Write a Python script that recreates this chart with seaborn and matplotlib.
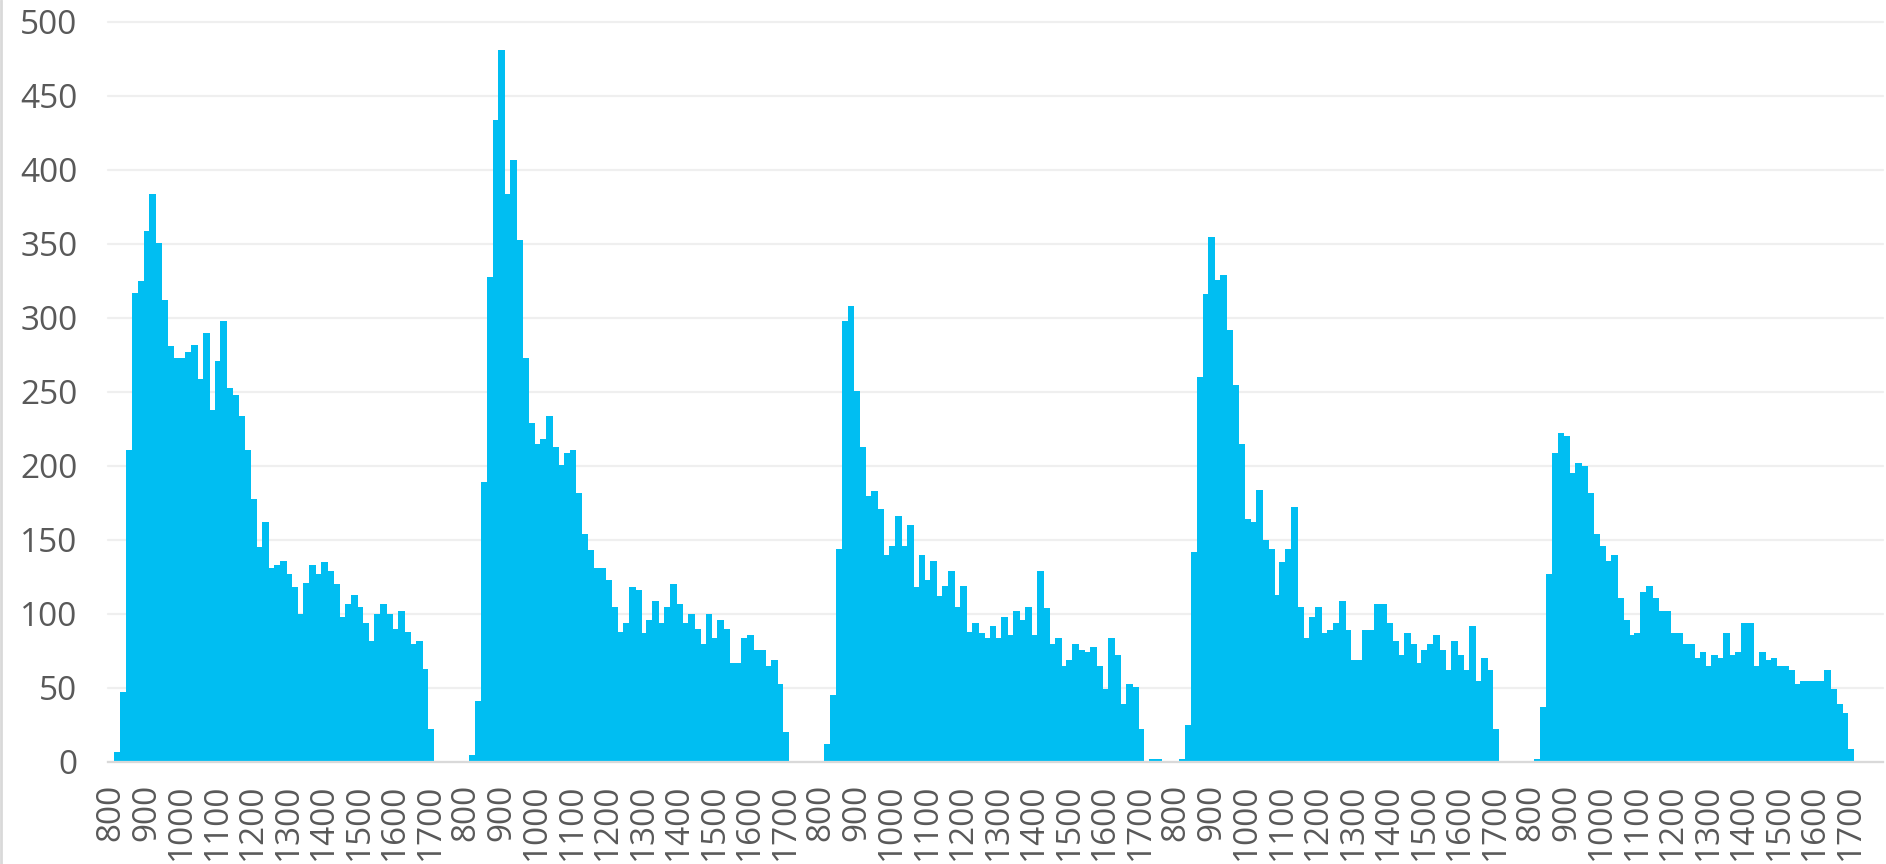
import numpy as np
import pandas as pd
import matplotlib
matplotlib.use("Agg")
import matplotlib.pyplot as plt
from matplotlib.lines import Line2D
import seaborn as sns

# Counts per bin, five consecutive runs; each run has 60 bins from 800 upward,
# with a labelled tick every 6th bin (every 100 units).
run_1 = [0, 7, 47, 211, 317, 325, 359, 384, 351, 312, 281, 273, 273, 277, 282,
         259, 290, 238, 271, 298, 253, 248, 234, 211, 178, 145, 162, 131, 133, 136,
         127, 118, 100, 121, 133, 127, 135, 129, 120, 98, 107, 113, 105, 94, 82,
         100, 107, 100, 90, 102, 88, 80, 82, 63, 22, 0, 0, 0, 0, 0]
run_2 = [0, 5, 41, 189, 328, 434, 481, 384, 407, 353, 273, 229, 215, 218, 234,
         213, 201, 209, 211, 182, 154, 143, 131, 131, 123, 105, 88, 94, 118, 116,
         87, 96, 109, 94, 105, 120, 107, 94, 100, 90, 80, 100, 84, 96, 90,
         67, 67, 84, 86, 76, 76, 65, 69, 53, 20, 0, 0, 0, 0, 0]
run_3 = [0, 12, 45, 144, 298, 308, 251, 213, 180, 183, 171, 140, 146, 166, 146,
         160, 118, 140, 123, 136, 112, 119, 129, 105, 119, 88, 94, 87, 84, 92,
         84, 98, 86, 102, 96, 105, 86, 129, 104, 80, 84, 65, 69, 80, 76,
         74, 78, 65, 49, 84, 72, 39, 53, 51, 22, 0, 2, 2, 0, 0]
run_4 = [0, 2, 25, 142, 260, 316, 355, 326, 329, 292, 255, 215, 164, 162, 184,
         150, 144, 113, 135, 144, 172, 105, 84, 98, 105, 87, 89, 94, 109, 89,
         69, 69, 89, 89, 107, 107, 94, 82, 72, 87, 80, 67, 76, 80, 86,
         76, 62, 82, 72, 62, 92, 55, 70, 62, 22, 0, 0, 0, 0, 0]
run_5 = [0, 2, 37, 127, 209, 222, 220, 195, 202, 200, 182, 154, 146, 136, 140,
         111, 96, 86, 87, 115, 119, 111, 102, 102, 87, 87, 80, 80, 70, 74,
         65, 72, 70, 87, 72, 74, 94, 94, 65, 74, 69, 70, 65, 65, 62,
         53, 55, 55, 55, 55, 62, 49, 39, 33, 9, 0, 0, 0, 0, 0]

runs = [run_1, run_2, run_3, run_4, run_5]
tick_labels = ["800", "900", "1000", "1100", "1200",
               "1300", "1400", "1500", "1600", "1700"]
y_ticks = [0, 50, 100, 150, 200, 250, 300, 350, 400, 450, 500]

BINS_PER_RUN = 60
BINS_PER_LABEL = 6
BAR_COLOR = "#00BEF2"
GRID_COLOR = "#EFEFEF"
AXIS_COLOR = "#D9D9D9"
TEXT_COLOR = "#595959"

sns.set_theme(style="white")
plt.rcParams["font.family"] = ["Open Sans", "DejaVu Sans"]

counts = [c for run in runs for c in run]
df = pd.DataFrame({"bin": np.arange(len(counts)), "count": counts})

W, H = 1886, 864
fig = plt.figure(figsize=(W / 100, H / 100), dpi=100)
fig.patch.set_facecolor("white")
ax = fig.add_axes([108 / W, (H - 762) / H, (1883 - 108) / W, 740 / H])

sns.barplot(data=df, x="bin", y="count", order=list(df["bin"]),
            color=BAR_COLOR, saturation=1, width=1.0,
            edgecolor=BAR_COLOR, linewidth=0.6, ax=ax)
# crisp, seam-free edges between adjacent bars
for patch in ax.patches:
    patch.set_antialiased(False)

ax.set_xlim(-0.5, len(counts) - 0.5)
ax.set_ylim(0, 500)
ax.set_yticks(y_ticks)
ax.set_yticklabels([str(v) for v in y_ticks])

positions = [r * BINS_PER_RUN + i * BINS_PER_LABEL
             for r in range(len(runs)) for i in range(len(tick_labels))]
ax.set_xticks(positions)
ax.set_xticklabels(tick_labels * len(runs), rotation=90)

ax.yaxis.grid(True, color=GRID_COLOR, linewidth=1.6)
ax.xaxis.grid(False)
ax.set_axisbelow(True)
for line in ax.get_ygridlines():
    line.set_clip_on(False)

for side in ("top", "right", "left"):
    ax.spines[side].set_visible(False)
ax.spines["bottom"].set_color(AXIS_COLOR)
ax.spines["bottom"].set_linewidth(1.6)

ax.tick_params(axis="x", length=0, pad=15.5, labelsize=24, labelcolor=TEXT_COLOR)
ax.tick_params(axis="y", length=0, pad=22, labelsize=24, labelcolor=TEXT_COLOR)
ax.set_xlabel("")
ax.set_ylabel("")

# thin frame line along the left edge of the canvas
fig.add_artist(Line2D([1 / W, 1 / W], [0, 1], color=AXIS_COLOR, linewidth=2,
                      transform=fig.transFigure))

fig.savefig("out.png", dpi=100, facecolor="white")
